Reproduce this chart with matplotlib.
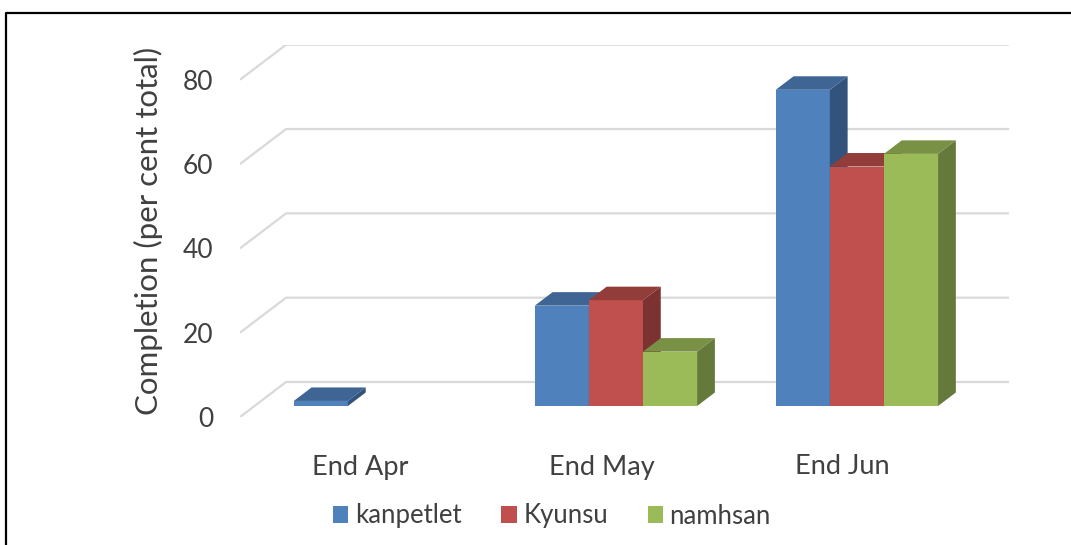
import matplotlib
matplotlib.use("Agg")
import matplotlib.pyplot as plt
import numpy as np
from matplotlib.lines import Line2D
from matplotlib.patches import Patch, Polygon

categories = ["End Apr", "End May", "End Jun"]
series_names = ["kanpetlet", "Kyunsu", "namhsan"]
kanpetlet = [1.2, 23.8, 75.0]
kyunsu = [np.nan, 25.1, 56.8]
namhsan = [np.nan, 12.9, 59.8]
y_ticks = [0, 20, 40, 60, 80]

front_colors = ["#4F81BD", "#C0504D", "#9BBB59"]
top_colors = ["#3E6594", "#933D3B", "#789145"]
side_colors = ["#32547C", "#7B3230", "#657A3A"]
text_color = "#404040"
grid_color = "#D9D9D9"

plt.rcParams["font.family"] = ["Lato", "DejaVu Sans"]

W, H = 1071, 545
fig = plt.figure(figsize=(W / 100, H / 100), dpi=100)

# axes mapped so the front plane spans categories -0.5..2.5 and values 0..80
px_per_cat = 240.5
px_per_val = 4.2156
depth_x = 46 / px_per_cat   # oblique depth offset in category units
depth_y = 35 / px_per_val   # ... and in value units
ax_left, ax_right, ax_bottom, ax_top = 240, 1009, 417, 44.7
ax = fig.add_axes([ax_left / W, (H - ax_bottom) / H,
                   (ax_right - ax_left) / W, (ax_bottom - ax_top) / H])
ax.set_xlim(-0.5, 2.5 + depth_x)
ax.set_ylim(0, 80 + depth_y)
for s in ax.spines.values():
    s.set_visible(False)

# walls: side wall diagonals + back wall gridlines
x0, x1 = -0.5, 2.5
for v in y_ticks:
    ax.plot([x0, x0 + depth_x, x1 + depth_x], [v, v + depth_y, v + depth_y],
            color=grid_color, lw=1.6, solid_capstyle="butt", zorder=1)

# 3d columns
bar_w = 54 / px_per_cat
f_front, f_back = 0.314, 0.70
values = [kanpetlet, kyunsu, namhsan]
for i in range(len(categories)):
    for j, vals in enumerate(values):
        v = vals[i]
        if np.isnan(v):
            continue
        bx = i - 1.5 * bar_w + j * bar_w + f_front * depth_x
        by = f_front * depth_y
        ddx = (f_back - f_front) * depth_x
        ddy = (f_back - f_front) * depth_y
        front = [(bx, by), (bx + bar_w, by), (bx + bar_w, by + v), (bx, by + v)]
        top = [(bx, by + v), (bx + bar_w, by + v),
               (bx + bar_w + ddx, by + v + ddy), (bx + ddx, by + v + ddy)]
        side = [(bx + bar_w, by), (bx + bar_w + ddx, by + ddy),
                (bx + bar_w + ddx, by + v + ddy), (bx + bar_w, by + v)]
        z = 3 + i * 3 + j
        ax.add_patch(Polygon(front, closed=True, fc=front_colors[j], ec="none", zorder=z))
        ax.add_patch(Polygon(top, closed=True, fc=top_colors[j], ec="none", zorder=z))
        ax.add_patch(Polygon(side, closed=True, fc=side_colors[j], ec="none", zorder=z))

ax.set_yticks(y_ticks)
ax.set_yticklabels([str(t) for t in y_ticks])
ax.set_xticks(range(len(categories)))
ax.set_xticklabels(categories)
ax.tick_params(axis="y", length=0, pad=19, labelsize=19, labelcolor=text_color)
ax.tick_params(axis="x", length=0, pad=27, labelsize=19.5, labelcolor=text_color)

fig.text(148 / W, 1 - 231 / H, "Completion (per cent total)", rotation=90,
         ha="center", va="center", fontsize=22.5, color=text_color)

handles = [Patch(fc=c, ec="none") for c in front_colors]
fig.legend(handles, series_names, loc="center", bbox_to_anchor=(552 / W, 1 - 516 / H),
           ncol=3, frameon=False, fontsize=18.5, handlelength=0.6, handleheight=0.6,
           handletextpad=0.25, columnspacing=1.55, labelcolor=text_color)

# outer frame (left and top edges only are visible)
fig.add_artist(Line2D([6 / W, 6 / W, 1], [0, 1 - 13 / H, 1 - 13 / H],
                      transform=fig.transFigure, color="black", lw=1.6))

fig.savefig("out.png", dpi=100, facecolor="white")
